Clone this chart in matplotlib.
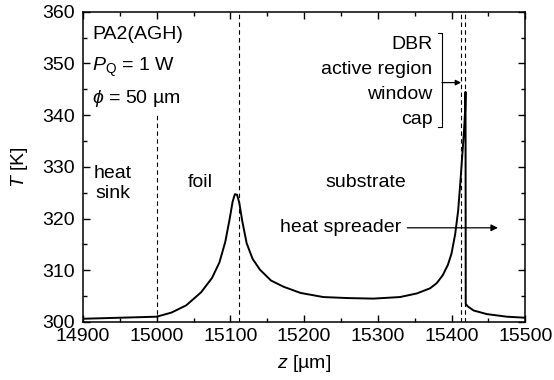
import numpy as np
import matplotlib.pyplot as plt

plt.rcParams['font.family'] = ['Liberation Sans', 'DejaVu Sans']
plt.rcParams['mathtext.fontset'] = 'custom'
plt.rcParams['mathtext.it'] = 'Liberation Sans:italic'
plt.rcParams['mathtext.rm'] = 'Liberation Sans'

# temperature profile
z = [14900, 14950, 15000, 15020, 15040, 15060, 15075, 15085, 15093, 15099, 15103,
     15106, 15109, 15112, 15116, 15122, 15130, 15140, 15155, 15172, 15195, 15226,
     15260, 15294, 15330, 15353, 15371, 15380, 15388, 15395, 15400, 15405, 15409,
     15412, 15415, 15417, 15418.5, 15419, 15419.3, 15422, 15430, 15448, 15475, 15500]
T = [300.6, 300.8, 301.0, 301.8, 303.2, 305.7, 308.5, 311.5, 315.5, 320.0, 323.3,
     324.7, 324.6, 323.0, 319.5, 315.2, 312.2, 310.1, 308.0, 306.8, 305.6, 304.8,
     304.6, 304.5, 304.8, 305.5, 306.5, 307.5, 309.0, 311.0, 313.2, 317.0, 321.5,
     327.0, 333.0, 337.0, 341.0, 344.5, 303.5, 303.0, 302.2, 301.5, 301.0, 300.8]

# layer boundaries
bounds = [15000, 15112, 15413, 15418]

fig = plt.figure(figsize=(5.54, 3.8), dpi=100)
ax = fig.add_axes([0.150, 0.153, 0.798, 0.816])

ax.plot(z, T, color='black', lw=1.4)

ax.plot([bounds[0], bounds[0]], [300, 340.5], color='black', lw=0.8, ls=(0, (4, 3)))
for b in bounds[1:]:
    ax.axvline(b, color='black', lw=0.8, ls=(0, (4, 3)))

ax.set_xlim(14900, 15500)
ax.set_ylim(300, 360)
ax.set_xticks(np.arange(14900, 15501, 100))
ax.set_xticks(np.arange(14900, 15501, 50), minor=True)
ax.set_yticks(np.arange(300, 361, 10))
ax.set_yticks(np.arange(300, 361, 5), minor=True)
ax.tick_params(which='both', direction='in', top=True, right=True, labelsize=14, width=1)
ax.tick_params(which='major', length=5)
ax.tick_params(which='minor', length=3)
ax.tick_params(axis='x', which='major', pad=4.5)
ax.tick_params(axis='y', which='major', pad=6)
for s in ax.spines.values():
    s.set_linewidth(1.1)

ax.set_xlabel('$z$ [µm]', fontsize=14, labelpad=6)
ax.set_ylabel('$T$ [K]', fontsize=14, labelpad=9)

fs = 14
ax.text(14912, 355.6, 'PA2(AGH)', fontsize=fs, va='center')
ax.text(14912, 349.2, '$P_{\\mathrm{Q}}$ = 1 W', fontsize=fs, va='center')
ax.text(14912, 343.2, '$\\phi$ = 50 µm', fontsize=fs, va='center')
ax.text(14940, 326.8, 'heat\nsink', fontsize=fs, va='center', ha='center', linespacing=1.25)
ax.text(15059, 326.9, 'foil', fontsize=fs, va='center', ha='center')
ax.text(15283, 326.9, 'substrate', fontsize=fs, va='center', ha='center')
ax.text(15250, 318.2, 'heat spreader', fontsize=fs, va='center', ha='center')
ax.annotate('', xy=(15463, 318.2), xytext=(15340, 318.2),
            arrowprops=dict(arrowstyle='-|>', color='black', lw=0.9,
                            mutation_scale=10, shrinkA=0, shrinkB=0))

layers = ['DBR', 'active region', 'window', 'cap']
for i, name in enumerate(layers):
    ax.text(15374, 353.6 - i * 4.8, name, fontsize=fs, va='center', ha='right')
ax.plot([15382, 15387, 15387, 15382], [355.8, 355.8, 337.7, 337.7], color='black', lw=0.8)
ax.annotate('', xy=(15413, 346.3), xytext=(15387, 346.3),
            arrowprops=dict(arrowstyle='-|>', color='black', lw=0.9,
                            mutation_scale=8, shrinkA=0, shrinkB=0))

fig.savefig('out.png', dpi=100)
